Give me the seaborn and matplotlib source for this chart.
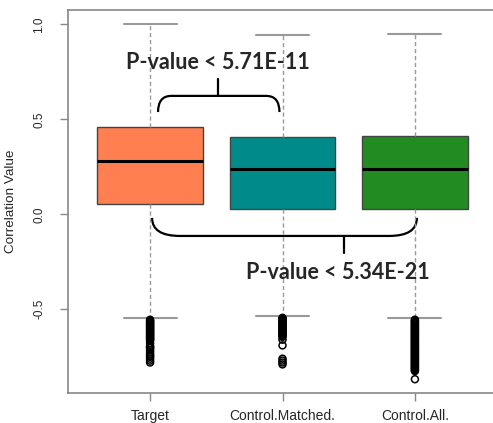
import matplotlib
matplotlib.use("Agg")
import matplotlib.pyplot as plt
from matplotlib.path import Path
from matplotlib.patches import PathPatch
import seaborn as sns
import pandas as pd

# five number summaries
groups = ["Target", "Control.Matched.", "Control.All."]
whisker_low = [-0.547, -0.535, -0.547]
q1 = [0.054, 0.028, 0.028]
median = [0.279, 0.237, 0.240]
q3 = [0.461, 0.408, 0.414]
whisker_high = [1.0, 0.944, 0.950]

# outliers (below the lower whisker)
target_out = [-0.555, -0.56, -0.565, -0.57, -0.575, -0.58, -0.585, -0.59, -0.595, -0.60,
              -0.605, -0.61, -0.615, -0.62, -0.625, -0.63, -0.635, -0.64, -0.645, -0.65,
              -0.655, -0.66, -0.665, -0.68, -0.695, -0.70, -0.705, -0.715, -0.725, -0.735,
              -0.745, -0.75, -0.76, -0.77, -0.78]
matched_out = [-0.545, -0.55, -0.555, -0.56, -0.565, -0.57, -0.575, -0.58, -0.585, -0.59,
               -0.595, -0.60, -0.605, -0.61, -0.615, -0.62, -0.625, -0.63, -0.635, -0.64,
               -0.645, -0.66, -0.69, -0.76, -0.77, -0.78, -0.79]
all_out = [-0.555, -0.56, -0.565, -0.57, -0.575, -0.58, -0.585, -0.59, -0.595, -0.60,
           -0.605, -0.61, -0.615, -0.62, -0.625, -0.63, -0.635, -0.64, -0.645, -0.65,
           -0.655, -0.66, -0.665, -0.67, -0.675, -0.68, -0.685, -0.69, -0.695, -0.70,
           -0.705, -0.71, -0.715, -0.72, -0.725, -0.73, -0.735, -0.74, -0.745, -0.75,
           -0.755, -0.76, -0.765, -0.77, -0.775, -0.78, -0.785, -0.79, -0.795, -0.80,
           -0.805, -0.81, -0.815, -0.82, -0.825, -0.868]

box_colors = ["#FF7F50", "#008B8B", "#228B22"]

rows = []
for g, lo, a, m, b, hi in zip(groups, whisker_low, q1, median, q3, whisker_high):
    for v in [lo, a, m, b, hi]:
        rows.append({"group": g, "value": v})
df_box = pd.DataFrame(rows)

out_rows = []
for g, vals in zip(groups, [target_out, matched_out, all_out]):
    for v in vals:
        out_rows.append({"group": g, "value": v})
df_out = pd.DataFrame(out_rows)

sns.set_style("white")
plt.rcParams["font.family"] = ["Liberation Sans", "DejaVu Sans"]

fig = plt.figure(figsize=(4.93, 4.23), dpi=100)
ax = fig.add_axes([68 / 493, 30 / 423, 429 / 493, 383 / 423])

sns.boxplot(data=df_box, x="group", y="value", hue="group", order=groups,
            palette=box_colors, legend=False, whis=(0, 100), showfliers=False,
            width=0.8, linecolor="#444444", linewidth=1.0, saturation=1, ax=ax,
            medianprops={"color": "black", "linewidth": 2.2},
            whiskerprops={"color": "#999999", "linestyle": (0, (3, 2)), "linewidth": 1.0},
            capprops={"color": "#999999", "linewidth": 1.5})

sns.stripplot(data=df_out, x="group", y="value", order=groups, jitter=False,
              color="black", size=5, linewidth=1.1, edgecolor="black", ax=ax)
for c in ax.collections:
    c.set_facecolor("none")
    c.set_edgecolor("black")

ax.set_xlim(-0.62, 2.62)
ax.set_ylim(-0.9405, 1.075)
ax.set_yticks([-0.5, 0.0, 0.5, 1.0])
ax.set_yticklabels(["-0.5", "0.0", "0.5", "1.0"], rotation=90, va="center")
ax.set_xlabel("")
ax.set_ylabel("Correlation Value", fontsize=9.7)
ax.yaxis.set_label_coords(-0.12, 0.5)
ax.tick_params(axis="both", length=5.5, width=1.0, color="#888888",
               direction="out", left=True, bottom=True)
ax.tick_params(axis="y", pad=11, labelsize=8.5)
ax.tick_params(axis="x", pad=6, labelsize=10)
for side in ["left", "top", "bottom"]:
    ax.spines[side].set_color("#888888")
    ax.spines[side].set_linewidth(1.2)
    ax.spines[side].set_visible(True)
ax.spines["right"].set_visible(False)

# significance brackets
def bracket(x0, x1, y_tip, y_line, r, stem_x, stem_y):
    verts = [(x0, y_tip), (x0, y_line), (x0 + r, y_line),
             (x1 - r, y_line), (x1, y_line), (x1, y_tip)]
    codes = [Path.MOVETO, Path.CURVE3, Path.CURVE3,
             Path.LINETO, Path.CURVE3, Path.CURVE3]
    ax.add_patch(PathPatch(Path(verts, codes), fill=False, lw=1.6, ec="black",
                           clip_on=False))
    ax.plot([stem_x, stem_x], [y_line, stem_y], color="black", lw=1.6, clip_on=False)

bracket(0.06, 0.977, 0.538, 0.623, 0.10, 0.51, 0.712)
bracket(0.015, 2.015, -0.019, -0.114, 0.21, 1.466, -0.204)

ax.text(0.51, 0.80, "P-value < 5.71E-11", ha="center", va="center",
        fontsize=15.5, fontweight="bold", family=["Lato", "DejaVu Sans"])
ax.text(1.421, -0.304, "P-value < 5.34E-21", ha="center", va="center",
        fontsize=15.5, fontweight="bold", family=["Lato", "DejaVu Sans"])

fig.savefig("out.png", dpi=100)
